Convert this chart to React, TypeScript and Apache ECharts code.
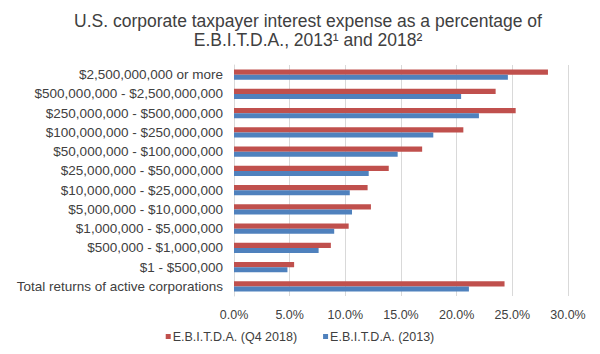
import React, { useEffect, useRef } from "react";
import * as echarts from "echarts";

const categories = [
  "$2,500,000,000 or more",
  "$500,000,000 - $2,500,000,000",
  "$250,000,000 - $500,000,000",
  "$100,000,000 - $250,000,000",
  "$50,000,000 - $100,000,000",
  "$25,000,000 - $50,000,000",
  "$10,000,000 - $25,000,000",
  "$5,000,000 - $10,000,000",
  "$1,000,000 - $5,000,000",
  "$500,000 - $1,000,000",
  "$1 - $500,000",
  "Total returns of active corporations",
];

const q42018 = [28.2, 23.5, 25.3, 20.6, 16.9, 13.9, 12.0, 12.3, 10.3, 8.7, 5.4, 24.3];
const y2013 = [24.6, 20.4, 22.0, 17.9, 14.7, 12.1, 10.4, 10.6, 9.0, 7.6, 4.8, 21.1];

const seriesNames = ["E.B.I.T.D.A. (Q4 2018)", "E.B.I.T.D.A. (2013)"];

export default function App() {
  const ref = useRef<HTMLDivElement>(null);
  useEffect(() => {
    if (!ref.current) return;
    const chart = echarts.init(ref.current, null, { renderer: "svg" });
    const font = "'Liberation Sans', Arial, sans-serif";
    chart.setOption({
      animation: false,
      textStyle: { fontFamily: font },
      title: {
        text: "U.S. corporate taxpayer interest expense as a percentage of\nE.B.I.T.D.A., 2013¹ and 2018²",
        left: 303,
        textAlign: "center",
        top: 6,
        textStyle: {
          fontFamily: font,
          fontSize: 17.5,
          fontWeight: "normal",
          color: "#404040",
          lineHeight: 19,
        },
      },
      legend: {
        bottom: 6,
        left: "center",
        itemWidth: 5,
        itemHeight: 5,
        itemGap: 26,
        icon: "rect",
        textStyle: { fontFamily: font, fontSize: 12.5, color: "#404040", padding: [0, 0, 0, -3] },
        data: seriesNames,
      },
      grid: { left: 234, right: 32, top: 65, bottom: 58 },
      xAxis: {
        type: "value",
        min: 0,
        max: 30,
        interval: 5,
        axisLabel: {
          formatter: (v: number) => v.toFixed(1) + "%",
          fontFamily: font,
          fontSize: 12.5,
          color: "#404040",
          margin: 12,
        },
        splitLine: { show: true, lineStyle: { color: "#d9d9d9", width: 1 } },
        axisLine: { show: false },
        axisTick: { show: false },
      },
      yAxis: {
        type: "category",
        inverse: true,
        data: categories,
        axisLabel: { fontFamily: font, fontSize: 13.5, color: "#404040", margin: 11 },
        axisLine: { show: true, lineStyle: { color: "#d9d9d9" } },
        axisTick: { show: false },
      },
      series: [
        {
          name: seriesNames[0],
          type: "bar",
          data: q42018,
          itemStyle: { color: "#C0504D" },
          barGap: "0%",
          barCategoryGap: "48%",
        },
        {
          name: seriesNames[1],
          type: "bar",
          data: y2013,
          itemStyle: { color: "#4F81BD" },
          barGap: "0%",
          barCategoryGap: "48%",
        },
      ],
    });
    return () => chart.dispose();
  }, []);
  return <div ref={ref} style={{ width: 600, height: 354, position: "absolute", left: 0, top: 0, background: "#fff" }} />;
}
